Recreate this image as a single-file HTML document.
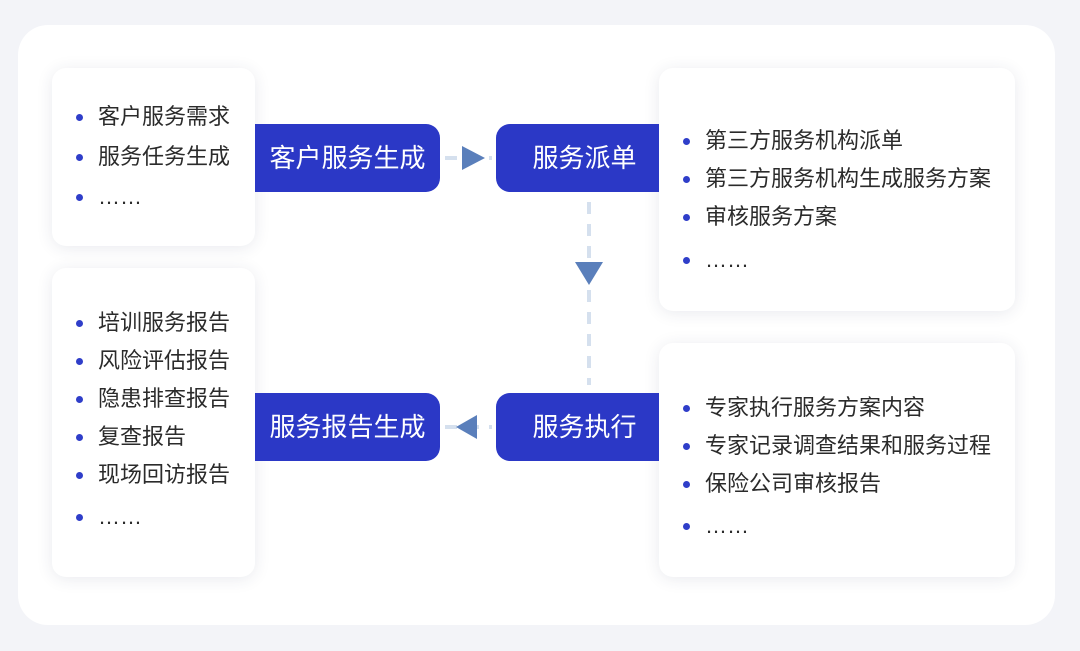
<!DOCTYPE html>
<html><head><meta charset="utf-8"><style>
body{margin:0;width:1080px;height:651px;background:#f3f4f8;position:relative;overflow:hidden;font-family:"Liberation Sans","Noto Sans CJK SC",sans-serif}
.outer{position:absolute;left:18px;top:25px;width:1037px;height:600px;background:#fff;border-radius:30px}
.card{position:absolute;background:#fff;border-radius:14px;box-shadow:0 2px 16px rgba(40,50,90,0.10)}
.card ul{margin:0;padding:0;list-style:none;position:absolute;left:0;top:0}
.card li{position:absolute;left:46px;font-size:22px;color:#2b2b2b;white-space:nowrap;line-height:24px}
.card li:before{content:"";position:absolute;left:-22px;top:9px;width:7px;height:7px;border-radius:50%;background:#2f3ec9}
.pill{position:absolute;background:#2b38c6;color:#fff;font-size:26px;line-height:68px;height:68px;text-align:center}
</style></head><body>
<div class="outer"></div>

<div class="card" style="left:52px;top:68px;width:203px;height:178px"><ul>
<li style="top:37px">客户服务需求</li><li style="top:77px">服务任务生成</li><li style="top:117px">……</li></ul></div>

<div class="card" style="left:52px;top:268px;width:203px;height:309px"><ul>
<li style="top:43px">培训服务报告</li><li style="top:81px">风险评估报告</li><li style="top:119px">隐患排查报告</li><li style="top:157px">复查报告</li><li style="top:195px">现场回访报告</li><li style="top:237px">……</li></ul></div>

<div class="card" style="left:659px;top:68px;width:356px;height:243px"><ul>
<li style="top:61px">第三方服务机构派单</li><li style="top:99px">第三方服务机构生成服务方案</li><li style="top:137px">审核服务方案</li><li style="top:180px">……</li></ul></div>

<div class="card" style="left:659px;top:343px;width:356px;height:234px"><ul>
<li style="top:53px">专家执行服务方案内容</li><li style="top:91px">专家记录调查结果和服务过程</li><li style="top:129px">保险公司审核报告</li><li style="top:171px">……</li></ul></div>

<div class="pill" style="left:255px;top:124px;width:185px;border-radius:0 14px 14px 0">客户服务生成</div>
<div class="pill" style="left:496px;top:124px;width:163px;border-radius:14px 0 0 14px;padding-left:14px;box-sizing:border-box">服务派单</div>
<div class="pill" style="left:255px;top:393px;width:185px;border-radius:0 14px 14px 0">服务报告生成</div>
<div class="pill" style="left:496px;top:393px;width:163px;border-radius:14px 0 0 14px;padding-left:14px;box-sizing:border-box">服务执行</div>

<svg style="position:absolute;left:0;top:0" width="1080" height="651">
<g stroke="#d5e0ee" stroke-width="4" stroke-dasharray="12,10">
<line x1="445" y1="158" x2="492" y2="158"/>
<line x1="589" y1="202" x2="589" y2="385"/>
<line x1="445" y1="427" x2="492" y2="427"/>
</g>
<polygon points="462,146 462,170 485,158" fill="#5a7fbb"/>
<polygon points="575,262 603,262 589,285" fill="#5a7fbb"/>
<polygon points="477,415 477,439 456,427" fill="#5a7fbb"/>
</svg>
</body></html>
